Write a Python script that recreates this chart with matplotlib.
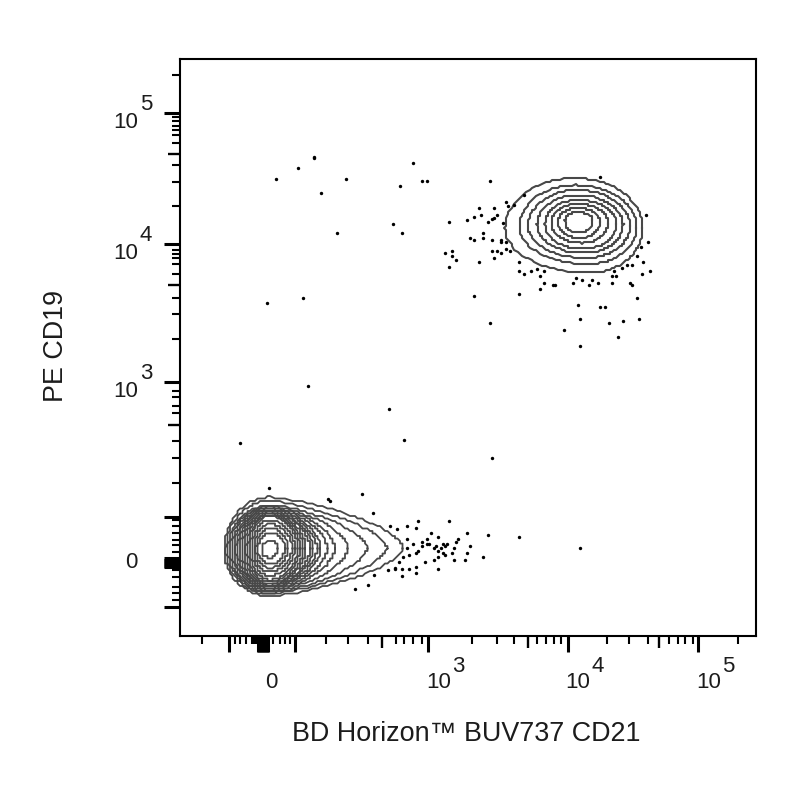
import numpy as np
import matplotlib
matplotlib.use("Agg")
import matplotlib.pyplot as plt

plt.rcParams['font.family'] = ['Liberation Sans', 'DejaVu Sans']

# Display channels of the biexponential axes (0-576 across, 0-577 up)
X_LABEL = "BD Horizon\u2122 BUV737 CD21"
Y_LABEL = "PE CD19"

x_decades = [(248, "3"), (387.7, "4"), (518, "5")]
x_zero = 91
y_decades = [(523, "5"), (392, "4"), (254, "3")]
y_zero = 75

x_ticks_long = [49, 77.5, 79, 80.5, 82, 83.5, 85, 86.5, 88, 115, 248, 387.7, 518]
x_ticks_mid = [201.7, 348.3, 479]
x_ticks_short = [21.7, 55, 60, 66, 72, 73.5, 75, 76.5, 93, 100, 105, 110, 145.7, 167.7, 188,
                 215.7, 224.3, 233.3, 242.3, 291.7, 316.7, 334.3, 357.3, 365.7, 374, 381,
                 427.3, 449.3, 467.7, 489.3, 497.7, 505, 512.7, 558.3]

y_ticks_long = [523, 392, 254, 119.3, 29, 78, 76.5, 75, 73.5, 72, 70.5, 69]
y_ticks_mid = [482, 351, 211]
y_ticks_short = [561, 519, 515, 510, 506, 501, 493, 471, 454, 430,
                 386, 382, 378, 372, 362, 338, 322, 297,
                 245.3, 239, 230, 223, 195, 178, 153,
                 116, 110, 103, 96, 91, 84, 66, 59, 49, 43, 36]

# Contour extents, outermost to innermost: CD19+ CD21+ population
upper_left = [325, 339, 348, 357, 365, 371, 378, 385]
upper_right = [462.7, 456.7, 450, 443, 436.7, 428, 420, 413]
upper_top = [458, 451, 446, 441, 436, 432, 428, 424]
upper_bottom = [363, 372, 378, 383, 387, 393, 398, 403]
upper_top_x = [395, 396, 397, 397, 398, 398, 398, 398]
upper_bottom_x = [410, 408, 406, 404, 403, 402, 400, 398]
upper_side_y = [408, 409, 410, 411, 412, 413, 414, 415]

# Contour extents, outermost to innermost: CD19- population
lower_left = [44, 46, 48, 50, 52, 54, 56, 58, 60, 62, 64, 66, 68, 70, 72, 74, 76, 78, 82]
lower_right = [223, 207, 187, 168, 155, 147, 141, 137, 133, 130, 126, 123, 120, 118, 115, 112, 108, 105, 98]
lower_top = [139, 135, 131, 130, 129, 128, 127, 126, 125, 124, 123, 122, 121, 120, 116, 112, 108, 103, 95]
lower_bottom = [40, 42, 43, 44, 45, 46, 47, 48, 49, 50, 51, 52, 54, 56, 60, 64, 68, 72, 78]
lower_taper = [1.3, 1.3, 1.35, 1.4, 1.5, 1.55, 1.55, 1.6, 1.6, 1.65, 1.65, 1.7, 1.7, 1.75, 1.75, 1.8, 1.85, 1.9, 2.0]

# Outlying events
events_sparse = [(134.3, 479.5), (134.3, 478), (118, 468.3), (96, 457), (165.7, 457), (141, 443.3),
                 (156.7, 403), (233.3, 472.7), (220, 450.3), (242.3, 454.7), (247, 454.7), (213, 412),
                 (222, 403), (87, 333), (123, 337.7), (127.7, 249.7), (208.7, 227), (60, 193.3),
                 (224.3, 195.7), (312, 178)]
events_upper = [(310, 455), (420.3, 459.3), (298.7, 428), (314.3, 428), (301, 421), (294, 418.7),
                (287.3, 416.3), (269.3, 414.3), (307.7, 414.3), (312.3, 416.7), (316.7, 421), (314.3, 417.7),
                (325.7, 434.3), (328, 430), (334, 431), (344, 441), (322.7, 413.3), (303, 403.3),
                (289.7, 398.3), (294, 396), (303, 398.3), (312.3, 396), (321, 396), (325.7, 394), (321, 394),
                (312.3, 385.3), (316.7, 385.3), (321, 382.7), (325.7, 387.3), (330, 385.3), (314.3, 378.3),
                (298.7, 373.7), (271.7, 385.3), (265, 382.7), (271.7, 380.3), (276, 376), (269.3, 369.3),
                (339.3, 373.7), (339.3, 364.7), (344, 362.3), (350.7, 364.7), (357.3, 367), (364, 364.7),
                (360, 360), (364, 353.3), (359.7, 346.7), (339.3, 342), (294.3, 340), (310, 312.7),
                (373.3, 351.3), (375.3, 351.3), (395.7, 358), (402.3, 355.7), (411.7, 355.7), (393.3, 353.3),
                (409.3, 351), (418.3, 353.3), (431.7, 353.3), (431.7, 360), (436, 360), (434, 365.3),
                (441.7, 367.7), (447.3, 371.3), (452, 371.3), (456.7, 380.3), (463.3, 373.7), (461, 389.3),
                (468, 394), (465.7, 421), (470, 364.7), (462, 362.3), (450, 353.3), (452, 351), (456.7, 337.7),
                (398, 330.7), (420.3, 328.7), (425, 328.7), (400.3, 317.3), (429.3, 312.7), (443, 315),
                (458.7, 317.3), (384.3, 306), (438.3, 299.3), (400.3, 290.3)]
events_lower = [(238, 114.7), (269.3, 114.7), (226.7, 110), (235.7, 107.7), (251.3, 103.3), (287.3, 103.3),
                (307.7, 101), (339.3, 98.7), (400, 87.7), (258.3, 98.7), (226.7, 96.7), (246.7, 96.7),
                (242.3, 94.3), (233.3, 92), (247.3, 92), (249.3, 92), (242.3, 89.7), (278.3, 96.7), (276, 94.3),
                (267.3, 92), (262.7, 92), (265, 89.7), (256, 89.7), (253.7, 87.7), (260.7, 87.7), (258.3, 85.3),
                (289.7, 89.7), (274, 87.7), (238, 85.3), (235.7, 83), (287.3, 83), (271.7, 83), (262.7, 83),
                (265, 80.7), (228.7, 80.7), (258.3, 78.7), (253.7, 76.3), (274, 76.3), (285.3, 76.3),
                (303.3, 78.7), (244.7, 74), (223.3, 78.7), (219, 74), (235.7, 69.3), (258.3, 67), (228.7, 67),
                (222, 67), (215.3, 67), (235.7, 62.7), (222, 60.3), (226.7, 87.7), (89, 148.3), (148.3, 136.7),
                (150.3, 134.7), (181.7, 141.7), (192.7, 123.3), (210, 110), (217.3, 107), (175, 47),
                (188.3, 51.3), (194.3, 60.7), (208.3, 66), (215.3, 67.7)]

INK = "#1c1c1c"
LINE = "#484848"


def left_arc(x0, y0, rx, ry, start):
    t = np.linspace(start, start + np.pi / 2, 30)
    return x0 + rx * np.cos(t), y0 + ry * np.sin(t)


def right_side(x0, y0, rx, ry, taper):
    """Half-height falling from the top of the contour to its rounded tip."""
    u = np.sin(np.linspace(0, np.pi / 2, 40))
    power = 0.5 + (2 - taper) / 7
    return x0 + rx * u, y0 + ry * (1 - u ** taper) ** power


def outline(left, right, top, bottom, top_x, bottom_x, left_y, right_y, taper=2.0, cell=2.0):
    tx, ty = right_side(top_x, right_y, right - top_x, top - right_y, taper)
    lx1, ly1 = left_arc(top_x, left_y, top_x - left, top - left_y, np.pi / 2)
    lx2, ly2 = left_arc(bottom_x, left_y, bottom_x - left, left_y - bottom, np.pi)
    bx, by = right_side(bottom_x, right_y, right - bottom_x, -(right_y - bottom), taper)
    x = np.concatenate([tx[::-1], lx1, lx2, bx, tx[-1:]])
    y = np.concatenate([ty[::-1], ly1, ly2, by, ty[-1:]])
    # the source contours sit on a coarse raster
    return np.round(x / cell) * cell, np.round(y / cell) * cell


fig = plt.figure(figsize=(8, 8), dpi=100, facecolor="white")
ax = fig.add_axes([180 / 800, 164 / 800, 576 / 800, 577 / 800])
ax.set_xlim(0, 576)
ax.set_ylim(0, 577)

for i in range(len(upper_left)):
    ox, oy = outline(upper_left[i], upper_right[i], upper_top[i], upper_bottom[i],
                     upper_top_x[i], upper_bottom_x[i], upper_side_y[i], upper_side_y[i])
    ax.plot(ox, oy, color=LINE, lw=1.5, solid_joinstyle="round", zorder=2)

for i in range(len(lower_left)):
    ox, oy = outline(lower_left[i], lower_right[i], lower_top[i], lower_bottom[i],
                     90, 90, 86, 88, lower_taper[i], cell=2.5)
    ax.plot(ox, oy, color=LINE, lw=1.3, solid_joinstyle="round", zorder=2)

for events in (events_sparse, events_upper, events_lower):
    ex, ey = zip(*events)
    ax.scatter(ex, ey, s=6, color="black", linewidths=0, zorder=3)

for side in ax.spines.values():
    side.set_linewidth(1.5)
    side.set_color("black")

ax.set_xticks(x_ticks_long + x_ticks_mid + x_ticks_short)
ax.set_yticks(y_ticks_long + y_ticks_mid + y_ticks_short)
ax.set_xticklabels([])
ax.set_yticklabels([])
for axis, nl, nm in ((ax.xaxis, len(x_ticks_long), len(x_ticks_mid)),
                     (ax.yaxis, len(y_ticks_long), len(y_ticks_mid))):
    for k, t in enumerate(axis.get_major_ticks()):
        if k < nl:
            length, width = 16 * 0.72, 2.2
        elif k < nl + nm:
            length, width = 12 * 0.72, 1.7
        else:
            length, width = 8 * 0.72, 1.5
        t.tick1line.set_markersize(length)
        t.tick1line.set_markeredgewidth(width)
        t.tick1line.set_color("black")

FS = 16
xt = ax.get_xaxis_transform()
yt = ax.get_yaxis_transform()
kw = dict(fontsize=FS, color=INK, annotation_clip=False, textcoords="offset pixels")
for pos, exp in x_decades:
    ax.annotate("10", xy=(pos, 0), xycoords=xt, xytext=(-2, -47), ha="left", va="center", **kw)
    ax.annotate(exp, xy=(pos, 0), xycoords=xt, xytext=(24, -30), ha="left", va="center", **kw)
ax.annotate("0", xy=(x_zero, 0), xycoords=xt, xytext=(0, -47), ha="center", va="center", **kw)

for pos, exp in y_decades:
    ax.annotate("10", xy=(0, pos), xycoords=yt, xytext=(-42, -9), ha="right", va="center", **kw)
    ax.annotate(exp, xy=(0, pos), xycoords=yt, xytext=(-40, 9), ha="left", va="center", **kw)
ax.annotate("0", xy=(0, y_zero), xycoords=yt, xytext=(-43, -2), ha="right", va="center", **kw)

fig.text(466 / 800, 1 - 734 / 800, X_LABEL, fontsize=19.4, color=INK, ha="center", va="center")
fig.text(56 / 800, 1 - 346 / 800, Y_LABEL, fontsize=19.4, color=INK, rotation=90, ha="center", va="center")

fig.savefig("out.png", dpi=100, facecolor="white")
